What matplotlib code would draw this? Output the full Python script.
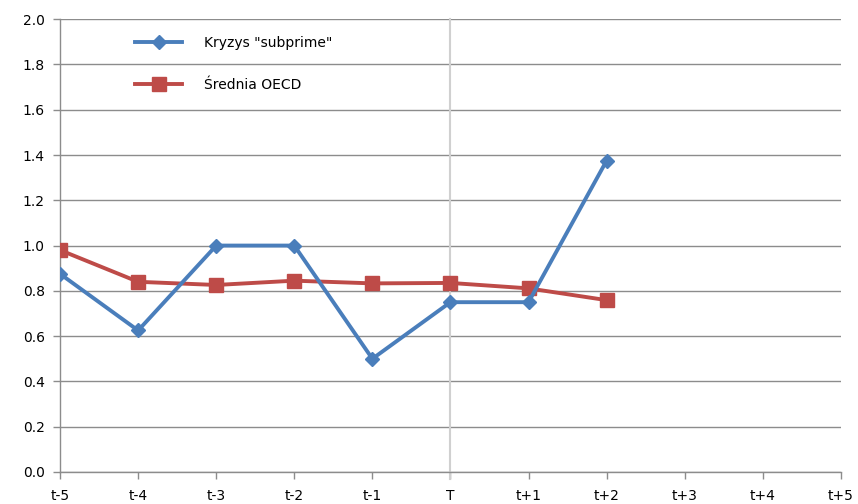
import matplotlib
matplotlib.use("Agg")
import matplotlib.pyplot as plt

categories = ["t-5", "t-4", "t-3", "t-2", "t-1", "T", "t+1", "t+2", "t+3", "t+4", "t+5"]
subprime = [0.875, 0.625, 1.0, 1.0, 0.5, 0.75, 0.75, 1.375]
oecd = [0.98, 0.84, 0.826, 0.845, 0.833, 0.835, 0.811, 0.759]
yticks = [0.0, 0.2, 0.4, 0.6, 0.8, 1.0, 1.2, 1.4, 1.6, 1.8, 2.0]

fig = plt.figure(figsize=(8.58, 5.04), dpi=100)
ax = fig.add_axes([0.070, 0.0635, 0.910, 0.8985])

x_all = list(range(len(categories)))
ax.plot(x_all[:len(subprime)], subprime, color="#4a7ebb", lw=2.8, marker="D",
        markersize=7, label='Kryzys "subprime"', zorder=4)
ax.plot(x_all[:len(oecd)], oecd, color="#be4b48", lw=2.8, marker="s",
        markersize=10.5, label="Średnia OECD", zorder=3)

ax.axvline(categories.index("T"), color="#d0d0d0", lw=1.5, ymin=-0.015, ymax=1, clip_on=False, zorder=2)

ax.set_xlim(0, len(categories) - 1)
ax.set_ylim(0, 2.0)
ax.set_xticks(x_all)
ax.set_xticklabels(categories)
ax.set_yticks(yticks)
ax.set_yticklabels([f"{v:.1f}" for v in yticks])
ax.yaxis.grid(True, color="#8c8c8c", lw=1)
ax.set_axisbelow(True)
for s in ["top", "right"]:
    ax.spines[s].set_visible(False)
for s in ["left", "bottom"]:
    ax.spines[s].set_color("#8c8c8c")
    ax.spines[s].set_linewidth(1)
ax.tick_params(axis="x", colors="#8c8c8c", labelcolor="black", length=5, width=1,
               labelsize=10, pad=7)
ax.tick_params(axis="y", colors="#8c8c8c", labelcolor="black", length=5, width=1,
               labelsize=10, pad=6)

leg = ax.legend(loc="upper left", bbox_to_anchor=(0.08, 0.99), frameon=False,
                fontsize=10, handlelength=3.4, labelspacing=2.0, handletextpad=1.6)

fig.savefig("out.png", dpi=100)
